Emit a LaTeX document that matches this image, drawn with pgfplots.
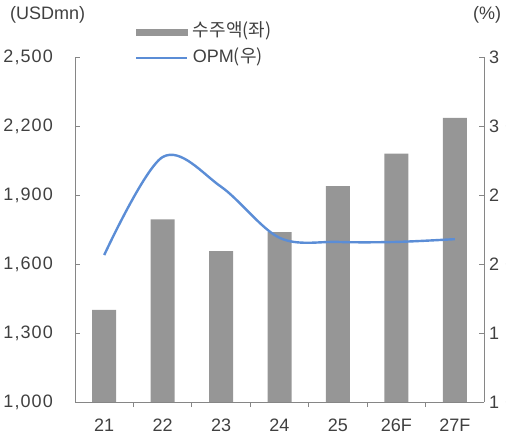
\documentclass[border=0pt]{standalone}
\usepackage{fontspec}
\setmainfont{Liberation Sans}
\newfontfamily\kr{Noto Sans CJK KR}
\usepackage{pgfplots}
\pgfplotsset{compat=1.18}
\definecolor{bargray}{HTML}{969696}
\definecolor{opmblue}{HTML}{5B8DD6}
\definecolor{axgray}{HTML}{868686}
\definecolor{txt}{HTML}{404040}
\begin{document}
\begin{tikzpicture}[font=\fontsize{18bp}{21bp}\selectfont]
\useasboundingbox (0,0) rectangle (506bp,435bp);
\begin{axis}[
  at={(75bp,33bp)}, anchor=south west,
  width=409bp, height=345bp, scale only axis,
  xmin=-0.5, xmax=6.5, ymin=1000, ymax=2500,
  ytick={1000,1300,...,2500},
  axis x line*=bottom, axis y line*=left,
  axis line style={axgray, line width=0.8bp},
  xtick={0,...,6}, xticklabels={21,22,23,24,25,26F,27F},
  major x tick style={draw=none},
  minor xtick={0.5,1.5,...,5.5},
  tick align=inside,
  tick style={axgray, line width=0.8bp},
  major tick length=5bp, minor tick length=5bp,
  scaled y ticks=false,
  /pgf/number format/1000 sep={,},
  /pgf/number format/assume math mode=true,
  ticklabel style={text=txt},
  yticklabel style={inner sep=0pt, xshift=-22bp, font=\fontsize{18bp}{21bp}\selectfont\addfontfeature{LetterSpace=6}},
  xticklabel style={inner sep=0pt, yshift=-12bp},
  ybar, bar width=24bp,
]
\addplot[fill=bargray, draw=none] coordinates {(0,1400) (1,1794) (2,1656) (3,1739) (4,1939) (5,2080) (6,2235)};
\end{axis}
\begin{axis}[
  at={(75bp,33bp)}, anchor=south west,
  width=409bp, height=345bp, scale only axis,
  xmin=-0.5, xmax=6.5, ymin=10, ymax=35,
  ytick={10,15,...,35},
  axis x line=none, axis y line*=right,
  axis line style={axgray, line width=0.8bp},
  tick align=inside,
  tick style={axgray, line width=0.8bp},
  major tick length=5bp,
  /pgf/number format/assume math mode=true,
  ticklabel style={text=txt},
  yticklabel style={inner sep=0pt, xshift=5bp, font=\fontsize{18bp}{21bp}\selectfont\addfontfeature{LetterSpace=35}},
  legend style={at={(0.147,1.0985)}, anchor=north west, draw=none, fill=none, inner sep=0pt,
    row sep=9bp, column sep=5bp, text=txt,
    nodes={inner sep=0pt, text height=13bp, text depth=4bp}},
  legend cell align=left,
]
\addlegendimage{legend image code/.code={\fill[bargray] (0bp,-3bp) rectangle (51bp,3bp);}}
\addlegendentry{{\kr 수주액(좌)}}
\addplot[opmblue, line width=2.4bp, smooth, tension=0.55,
  legend image code/.code={\draw[opmblue, line width=1.6bp] (0bp,0bp)--(51bp,0bp);}]
  coordinates {(0,20.65) (1,27.75) (2,25.6) (3,21.9) (4,21.6) (5,21.6) (6,21.8)};
\addlegendentry{OPM{\kr (우)}}
\end{axis}
\node[anchor=west, inner sep=0pt, text=txt] at (10bp,420bp) {(USDmn)};
\node[anchor=west, inner sep=0pt, text=txt] at (473bp,420bp) {(\%)};
\end{tikzpicture}
\end{document}
